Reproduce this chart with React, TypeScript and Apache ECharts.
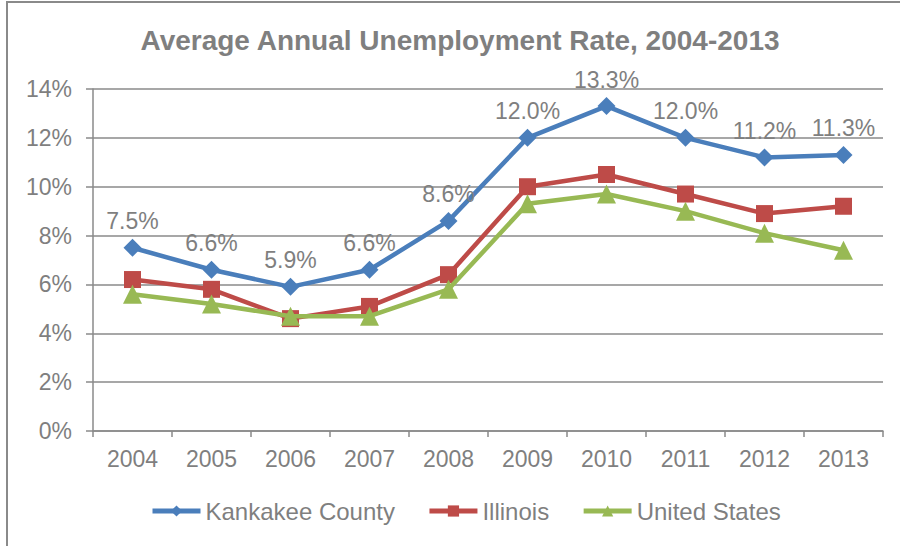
import React, { useEffect, useRef } from "react";
import * as echarts from "echarts";

const titleText = "Average Annual Unemployment Rate, 2004-2013";
const years = ["2004", "2005", "2006", "2007", "2008", "2009", "2010", "2011", "2012", "2013"];
const kankakee = [7.5, 6.6, 5.9, 6.6, 8.6, 12.0, 13.3, 12.0, 11.2, 11.3];
const illinois = [6.2, 5.8, 4.6, 5.1, 6.4, 10.0, 10.5, 9.7, 8.9, 9.2];
const unitedStates = [5.6, 5.2, 4.7, 4.7, 5.8, 9.3, 9.7, 9.0, 8.1, 7.4];
const seriesNames = ["Kankakee County", "Illinois", "United States"];

const FONT = "'Liberation Sans', Arial, Helvetica, sans-serif";
const GRAY_TEXT = "#7f7f7f";
const GRAY_LINE = "#8a8a8a";

export default function App() {
  const ref = useRef<HTMLDivElement>(null);
  useEffect(() => {
    if (!ref.current) return;
    const chart = echarts.init(ref.current, undefined, { renderer: "svg" });
    chart.setOption({
      animation: false,
      backgroundColor: "#ffffff",
      textStyle: { fontFamily: FONT },
      graphic: [
        {
          type: "rect",
          shape: { x: 7, y: 2, width: 1000, height: 700 },
          style: { fill: "none", stroke: GRAY_LINE, lineWidth: 2 },
          silent: true,
        },
        {
          type: "text",
          x: 460,
          y: 40,
          style: {
            text: titleText,
            fill: GRAY_TEXT,
            font: `bold 28px ${FONT}`,
            textAlign: "center",
            textVerticalAlign: "middle",
          },
        },
      ],
      legend: {
        left: 145,
        top: 494,
        itemWidth: 48,
        itemHeight: 14,
        itemGap: 32,
        lineStyle: { width: 5 },
        textStyle: { fontSize: 24, color: GRAY_TEXT, fontFamily: FONT },
        data: seriesNames,
      },
      grid: { left: 93, right: 17, top: 89, bottom: 115, containLabel: false },
      xAxis: {
        type: "category",
        data: years,
        boundaryGap: true,
        axisLine: { show: true, lineStyle: { color: GRAY_LINE, width: 1.5 } },
        axisTick: { show: true, interval: 0, length: 6, lineStyle: { color: GRAY_LINE, width: 1.5 } },
        axisLabel: { color: GRAY_TEXT, fontSize: 23, margin: 16, fontFamily: FONT, interval: 0 },
      },
      yAxis: {
        type: "value",
        min: 0,
        max: 14,
        interval: 2,
        axisLine: { show: true, lineStyle: { color: GRAY_LINE, width: 1.5 } },
        axisTick: { show: true, length: 7, lineStyle: { color: GRAY_LINE, width: 1.5 } },
        axisLabel: { color: GRAY_TEXT, fontSize: 23, margin: 21, formatter: "{value}%", fontFamily: FONT },
        splitLine: { show: true, lineStyle: { color: GRAY_LINE, width: 1.5 } },
      },
      series: [
        {
          name: seriesNames[0],
          type: "line",
          data: kankakee,
          color: "#4a7ebb",
          symbol: "diamond",
          symbolSize: 18,
          lineStyle: { width: 4.5, color: "#4a7ebb" },
          itemStyle: { color: "#4a7ebb" },
          label: {
            show: true,
            position: "top",
            distance: 6,
            color: GRAY_TEXT,
            fontSize: 23,
            fontFamily: FONT,
            formatter: (p: any) => `${Number(p.value).toFixed(1)}%`,
          },
          z: 4,
        },
        {
          name: seriesNames[1],
          type: "line",
          data: illinois,
          color: "#be4b48",
          symbol: "rect",
          symbolSize: 17,
          lineStyle: { width: 4.5, color: "#be4b48" },
          itemStyle: { color: "#be4b48" },
          z: 3,
        },
        {
          name: seriesNames[2],
          type: "line",
          data: unitedStates,
          color: "#98b954",
          symbol: "triangle",
          symbolSize: 19,
          lineStyle: { width: 4.5, color: "#98b954" },
          itemStyle: { color: "#98b954" },
          z: 5,
        },
      ],
    });
    return () => chart.dispose();
  }, []);
  return (
    <div
      ref={ref}
      style={{ position: "fixed", left: 0, top: 0, width: 900, height: 546, background: "#fff" }}
    />
  );
}
